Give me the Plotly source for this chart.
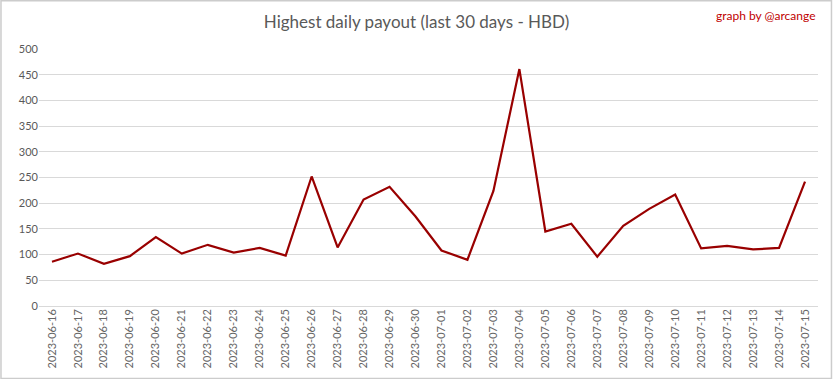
import plotly.graph_objects as go

dates = ["2023-06-16","2023-06-17","2023-06-18","2023-06-19","2023-06-20","2023-06-21",
         "2023-06-22","2023-06-23","2023-06-24","2023-06-25","2023-06-26","2023-06-27",
         "2023-06-28","2023-06-29","2023-06-30","2023-07-01","2023-07-02","2023-07-03",
         "2023-07-04","2023-07-05","2023-07-06","2023-07-07","2023-07-08","2023-07-09",
         "2023-07-10","2023-07-11","2023-07-12","2023-07-13","2023-07-14","2023-07-15"]
payout = [86, 102, 82, 97, 134, 102, 119, 104, 113, 98, 252, 114, 207, 232, 174,
          108, 90, 224, 461, 145, 160, 96, 156, 189, 217, 112, 117, 110, 113, 242]
y_ticks = [0, 50, 100, 150, 200, 250, 300, 350, 400, 450, 500]

fig = go.Figure()
fig.add_trace(go.Scatter(x=dates, y=payout, mode="lines",
                         line=dict(color="#990000", width=2.2), hoverinfo="x+y"))

fig.update_layout(
    width=833, height=379,
    margin=dict(l=39, r=15, t=49, b=73),
    paper_bgcolor="white", plot_bgcolor="white",
    showlegend=False,
    font=dict(family="Lato, 'Open Sans', sans-serif", color="#595959", size=11),
    title=dict(text="Highest daily payout (last 30 days - HBD)", x=0.5, xanchor="center",
               y=0.942, yanchor="middle",
               font=dict(size=17, color="#595959", family="Lato, sans-serif")),
    xaxis=dict(type="category", range=[-0.5, len(dates) - 0.5], tickangle=-90,
               showgrid=False, showline=False, ticks="",
               tickfont=dict(size=11, color="#666666"), automargin=False),
    yaxis=dict(range=[0, 500], tickvals=y_ticks, showgrid=True, gridcolor="#d9d9d9",
               gridwidth=1, zeroline=True, zerolinecolor="#d9d9d9", zerolinewidth=1,
               ticks="", tickfont=dict(size=11, color="#595959"), automargin=False),
    annotations=[dict(text="graph by @arcange", xref="paper", yref="paper",
                      x=1.0, xanchor="right", y=1.0, yshift=34, yanchor="middle",
                      showarrow=False, font=dict(size=12, color="#c00000",
                                                  family="Lato, sans-serif"))],
    shapes=[dict(type="rect", xref="paper", yref="paper", x0=-0.0488, x1=1.0173,
                 y0=-0.2817, y1=1.1875, line=dict(color="#cccccc", width=1.5))],
)

fig.write_html("out.html", config={"displayModeBar": False},
               post_script="document.body.style.margin='0';document.body.style.overflow='hidden';")
